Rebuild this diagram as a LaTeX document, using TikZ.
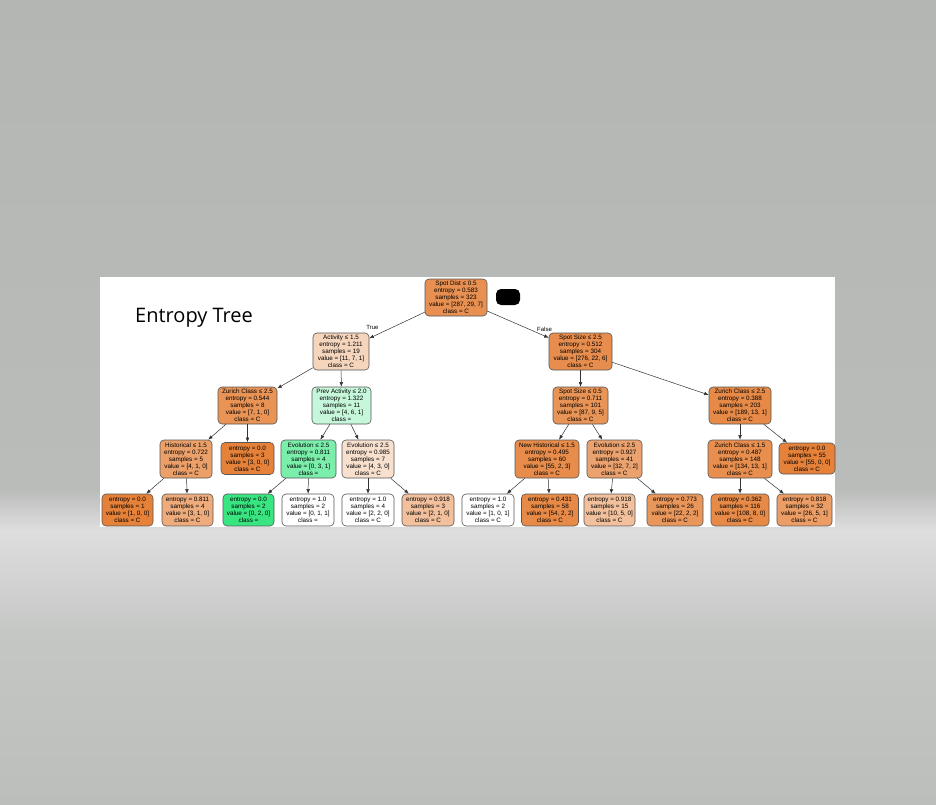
\documentclass[tikz,border=0pt]{standalone}
\usepackage{fontspec}
\setmainfont{Liberation Sans}
\newfontfamily\titlefont{Open Sans}
\usetikzlibrary{arrows.meta}

\tikzset{
  tnode/.style={draw={rgb,255:red,85;green,85;blue,85}, line width=0.6pt, rounded corners=4pt,
    align=center, inner sep=0pt, minimum height=37pt, font=\fontsize{6.3}{6.9}\selectfont},
  tleaf/.style={tnode, minimum height=32pt},
  tedge/.style={draw={rgb,255:red,50;green,50;blue,50}, line width=0.5pt, -{Latex[length=4.5pt,width=3.6pt]}},
  elabel/.style={font=\fontsize{6}{7}\selectfont, inner sep=0pt},
}

\begin{document}
\begin{tikzpicture}[x=1pt,y=-1pt]
        \useasboundingbox (0,0) rectangle (936,804);

        %Background
        \shade[top color={rgb,255:red,180;green,182;blue,180}, bottom color={rgb,255:red,186;green,188;blue,186}] (0,0) rectangle (936,490);
        \shade[top color={rgb,255:red,186;green,188;blue,186}, bottom color={rgb,255:red,222;green,222;blue,222}] (0,490) rectangle (936,530);
        \shade[top color={rgb,255:red,222;green,222;blue,222}, bottom color={rgb,255:red,197;green,199;blue,197}] (0,530) rectangle (936,630);
        \shade[top color={rgb,255:red,197;green,199;blue,197}, bottom color={rgb,255:red,188;green,190;blue,188}] (0,630) rectangle (936,804);
        %Shape: Panel
        \fill[white] (100,277) rectangle (835,527);

        % Text Node
        \node[anchor=base west, inner sep=0pt, font=\titlefont\fontsize{20}{24}\selectfont] (title) at (135,322) {Entropy Tree};
        %Shape: Rounded Rect
        \fill[black, rounded corners=5pt] (496,289) rectangle (520,305);

        %Level 0 and 1
        \node[tnode, minimum width=62pt, fill={rgb,255:red,232;green,144;blue,81}] (root) at (456,297.5) {Spot Dist ≤ 0.5\\entropy = 0.583\\samples = 323\\value = [287, 29, 7]\\class = C};
        \node[tnode, minimum width=56pt, fill={rgb,255:red,246;green,213;blue,189}] (act) at (341,351.5) {Activity ≤ 1.5\\entropy = 1.211\\samples = 19\\value = [11, 7, 1]\\class = C};
        \node[tnode, minimum width=63pt, fill={rgb,255:red,231;green,141;blue,77}] (ssa) at (580.5,351.5) {Spot Size ≤ 2.5\\entropy = 0.512\\samples = 304\\value = [276, 22, 6]\\class = C};

        %Level 2
        \node[tnode, minimum width=59pt, fill={rgb,255:red,233;green,147;blue,85}] (zca) at (247.5,405.5) {Zurich Class ≤ 2.5\\entropy = 0.544\\samples = 8\\value = [7, 1, 0]\\class = C};
        \node[tnode, minimum width=59pt, fill={rgb,255:red,198;green,247;blue,219}] (prev) at (341.5,405.5) {Prev Activity ≤ 2.0\\entropy = 1.322\\samples = 11\\value = [4, 6, 1]\\class =};
        \node[tnode, minimum width=55pt, fill={rgb,255:red,233;green,148;blue,87}] (ssb) at (580.5,405.5) {Spot Size ≤ 0.5\\entropy = 0.711\\samples = 101\\value = [87, 9, 5]\\class = C};
        \node[tnode, minimum width=62pt, fill={rgb,255:red,231;green,138;blue,72}] (zcb) at (740,405.5) {Zurich Class ≤ 2.5\\entropy = 0.388\\samples = 203\\value = [189, 13, 1]\\class = C};

        %Level 3
        \node[tnode, minimum width=52pt, minimum height=38pt, fill={rgb,255:red,235;green,160;blue,106}] (hist) at (186,459) {Historical ≤ 1.5\\entropy = 0.722\\samples = 5\\value = [4, 1, 0]\\class = C};
        \node[tleaf, minimum width=53pt, fill={rgb,255:red,229;green,129;blue,57}] (lfa) at (247.5,458.5) {entropy = 0.0\\samples = 3\\value = [3, 0, 0]\\class = C};
        \node[tnode, minimum width=55pt, minimum height=38pt, fill={rgb,255:red,123;green,238;blue,171}] (evoa) at (308.5,459) {Evolution ≤ 2.5\\entropy = 0.811\\samples = 4\\value = [0, 3, 1]\\class =};
        \node[tnode, minimum width=52pt, minimum height=38pt, fill={rgb,255:red,248;green,224;blue,206}] (evob) at (368,459) {Evolution ≤ 2.5\\entropy = 0.985\\samples = 7\\value = [4, 3, 0]\\class = C};
        \node[tnode, minimum width=64pt, minimum height=38pt, fill={rgb,255:red,231;green,140;blue,74}] (nhist) at (547,459) {New Historical ≤ 1.5\\entropy = 0.495\\samples = 60\\value = [55, 2, 3]\\class = C};
        \node[tnode, minimum width=55pt, minimum height=38pt, fill={rgb,255:red,236;green,162;blue,110}] (evoc) at (614.5,459) {Evolution ≤ 2.5\\entropy = 0.927\\samples = 41\\value = [32, 7, 2]\\class = C};
        \node[tnode, minimum width=64pt, minimum height=38pt, fill={rgb,255:red,232;green,142;blue,78}] (zcc) at (740,459) {Zurich Class ≤ 1.5\\entropy = 0.487\\samples = 148\\value = [134, 13, 1]\\class = C};
        \node[tleaf, minimum width=56pt, minimum height=31pt, fill={rgb,255:red,229;green,129;blue,57}] (lfb) at (807,458.5) {entropy = 0.0\\samples = 55\\value = [55, 0, 0]\\class = C};

        %Level 4 (leaves)
        \node[tleaf, minimum width=51pt, fill={rgb,255:red,229;green,129;blue,57}] (l1) at (127.5,510) {entropy = 0.0\\samples = 1\\value = [1, 0, 0]\\class = C};
        \node[tleaf, minimum width=51pt, fill={rgb,255:red,238;green,171;blue,123}] (l2) at (187.5,510) {entropy = 0.811\\samples = 4\\value = [3, 1, 0]\\class = C};
        \node[tleaf, minimum width=51pt, fill={rgb,255:red,57;green,229;blue,129}] (l3) at (248.5,510) {entropy = 0.0\\samples = 2\\value = [0, 2, 0]\\class =};
        \node[tleaf, minimum width=52pt, fill=white] (l4) at (308,510) {entropy = 1.0\\samples = 2\\value = [0, 1, 1]\\class =};
        \node[tleaf, minimum width=52pt, fill=white] (l5) at (368,510) {entropy = 1.0\\samples = 4\\value = [2, 2, 0]\\class = C};
        \node[tleaf, minimum width=52pt, fill={rgb,255:red,242;green,192;blue,156}] (l6) at (428,510) {entropy = 0.918\\samples = 3\\value = [2, 1, 0]\\class = C};
        \node[tleaf, minimum width=52pt, fill=white] (l7) at (488,510) {entropy = 1.0\\samples = 2\\value = [1, 0, 1]\\class = C};
        \node[tleaf, minimum width=57pt, fill={rgb,255:red,231;green,138;blue,71}] (l8) at (550,510) {entropy = 0.431\\samples = 58\\value = [54, 2, 2]\\class = C};
        \node[tleaf, minimum width=51pt, fill={rgb,255:red,242;green,192;blue,156}] (l9) at (609.5,510) {entropy = 0.918\\samples = 15\\value = [10, 5, 0]\\class = C};
        \node[tleaf, minimum width=56pt, fill={rgb,255:red,233;green,150;blue,90}] (l10) at (675,510) {entropy = 0.773\\samples = 26\\value = [22, 2, 2]\\class = C};
        \node[tleaf, minimum width=58pt, fill={rgb,255:red,231;green,138;blue,72}] (l11) at (740,510) {entropy = 0.362\\samples = 116\\value = [108, 8, 0]\\class = C};
        \node[tleaf, minimum width=55pt, fill={rgb,255:red,235;green,157;blue,101}] (l12) at (804.5,510) {entropy = 0.818\\samples = 32\\value = [26, 5, 1]\\class = C};

        %Edges
        \foreach \a/\b in {root/act, root/ssa, act/zca, act/prev, ssa/ssb, ssa/zcb,
            zca/hist, zca/lfa, prev/evoa, prev/evob, ssb/nhist, ssb/evoc, zcb/zcc, zcb/lfb,
            hist/l1, hist/l2, evoa/l3, evoa/l4, evob/l5, evob/l6, nhist/l7, nhist/l8,
            evoc/l9, evoc/l10, zcc/l11, zcc/l12}
          \draw[tedge] (\a) -- (\b);

        % Text Node
        \node[elabel] (true) at (372.5,327) {True};
        \node[elabel] (false) at (544.5,329) {False};
\end{tikzpicture}
\end{document}
